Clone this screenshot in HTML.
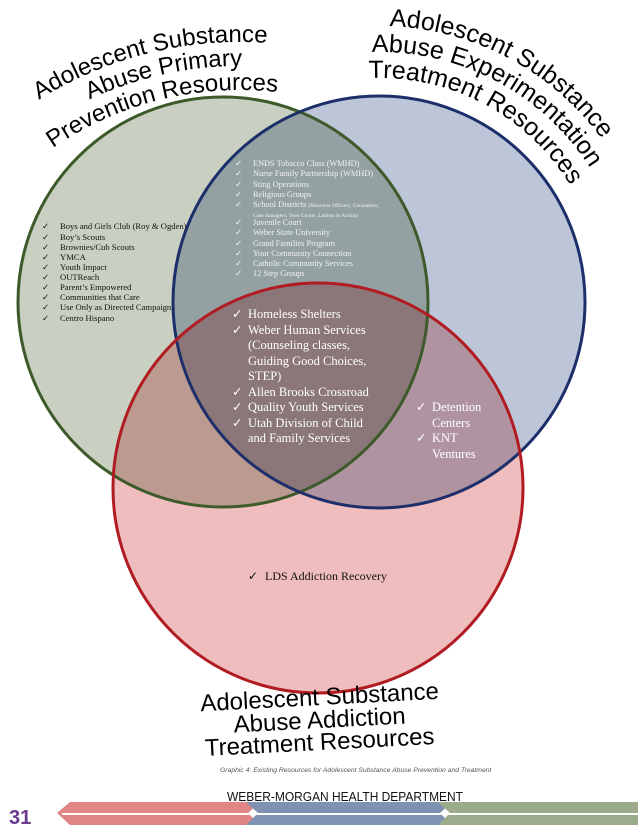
<!DOCTYPE html>
<html><head><meta charset="utf-8"><style>
html,body{margin:0;padding:0;background:#fff;}
svg{display:block}
</style></head><body>
<svg width="638" height="826" viewBox="0 0 638 826" xmlns="http://www.w3.org/2000/svg">
<defs>
<path id="l1" d="M -65.8 197.7 A 378 378 0 0 1 405.6 80.2"/>
<path id="l2" d="M -46.4 211.8 A 354 354 0 0 1 395.1 101.8"/>
<path id="l3" d="M -27 226 A 330 330 0 0 1 384.5 123.3"/>
<path id="r1" d="M 284.6 42.6 A 276 276 0 0 1 650.9 254"/>
<path id="r2" d="M 293.5 67 A 250 250 0 0 1 625.2 258.5"/>
<path id="r3" d="M 302.4 91.4 A 224 224 0 0 1 599.6 263"/>
</defs>
<g style="isolation:isolate">
<circle cx="223" cy="302" r="205" fill="#c9d0c1" style="mix-blend-mode:multiply"/>
<circle cx="379" cy="302" r="206" fill="#bcc6d8" style="mix-blend-mode:multiply"/>
<circle cx="318" cy="488" r="205" fill="#efbdbd" style="mix-blend-mode:multiply"/>
</g>
<circle cx="223" cy="302" r="205" fill="none" stroke="#3d5a2a" stroke-width="3"/>
<circle cx="379" cy="302" r="206" fill="none" stroke="#1c2f6b" stroke-width="3"/>
<circle cx="318" cy="488" r="205" fill="none" stroke="#b01c22" stroke-width="3"/>

<g font-family="'Liberation Sans', sans-serif" font-size="24" fill="#000" text-anchor="middle">
<text><textPath href="#l1" startOffset="50%">Adolescent Substance</textPath></text>
<text><textPath href="#l2" startOffset="52%">Abuse Primary</textPath></text>
<text><textPath href="#l3" startOffset="50%">Prevention Resources</textPath></text>
<text font-size="25"><textPath href="#r1" startOffset="48%">Adolescent Substance</textPath></text>
<text font-size="25"><textPath href="#r2" startOffset="48%">Abuse Experimentation</textPath></text>
<text font-size="25"><textPath href="#r3" startOffset="48%">Treatment Resources</textPath></text>
<text x="320" y="705" transform="rotate(-3 320 705)">Adolescent Substance</text>
<text x="320" y="728" transform="rotate(-3 320 728)">Abuse Addiction</text>
<text x="320" y="750" transform="rotate(-3 320 750)">Treatment Resources</text>
</g>

<g font-family="'Liberation Serif', serif" font-size="8.6" fill="#111">
<text x="42" y="229">✓</text><text x="60" y="229">Boys and Girls Club (Roy &amp; Ogden)</text>
<text x="42" y="240">✓</text><text x="60" y="240">Boy’s Scouts</text>
<text x="42" y="250">✓</text><text x="60" y="250">Brownies/Cub Scouts</text>
<text x="42" y="260">✓</text><text x="60" y="260">YMCA</text>
<text x="42" y="270">✓</text><text x="60" y="270">Youth Impact</text>
<text x="42" y="280">✓</text><text x="60" y="280">OUTReach</text>
<text x="42" y="290">✓</text><text x="60" y="290">Parent’s Empowered</text>
<text x="42" y="300">✓</text><text x="60" y="300">Communities that Care</text>
<text x="42" y="310">✓</text><text x="60" y="310">Use Only as Directed Campaign</text>
<text x="42" y="321">✓</text><text x="60" y="321">Centro Hispano</text>
</g>
<g font-family="'Liberation Serif', serif" font-size="8.3" fill="#f2f2f2">
<text x="235" y="166">✓</text><text x="253" y="166">ENDS Tobacco Class (WMHD)</text>
<text x="235" y="176">✓</text><text x="253" y="176">Nurse Family Partnership (WMHD)</text>
<text x="235" y="187">✓</text><text x="253" y="187">Sting Operations</text>
<text x="235" y="197">✓</text><text x="253" y="197">Religious Groups</text>
<text x="235" y="207">✓</text><text x="253" y="207">School Districts <tspan font-size="5.5">(Resource Officers, Counselors,</tspan></text>
<text x="253" y="217" font-size="5.5">Case managers, Teen Courts, Latinos in Action)</text>
<text x="235" y="225">✓</text><text x="253" y="225">Juvenile Court</text>
<text x="235" y="235">✓</text><text x="253" y="235">Weber State University</text>
<text x="235" y="246">✓</text><text x="253" y="246">Grand Families Program</text>
<text x="235" y="256">✓</text><text x="253" y="256">Your Community Connection</text>
<text x="235" y="266">✓</text><text x="253" y="266">Catholic Community Services</text>
<text x="235" y="276">✓</text><text x="253" y="276">12 Step Groups</text>
</g>
<g font-family="'Liberation Serif', serif" font-size="12.5" fill="#fff">
<text x="232" y="318">✓</text><text x="248" y="318">Homeless Shelters</text>
<text x="232" y="334">✓</text><text x="248" y="334">Weber Human Services</text>
<text x="248" y="349">(Counseling classes,</text>
<text x="248" y="365">Guiding Good Choices,</text>
<text x="248" y="380">STEP)</text>
<text x="232" y="396">✓</text><text x="248" y="396">Allen Brooks Crossroad</text>
<text x="232" y="411">✓</text><text x="248" y="411">Quality Youth Services</text>
<text x="232" y="427">✓</text><text x="248" y="427">Utah Division of Child</text>
<text x="248" y="442">and Family Services</text>
<text x="416" y="411">✓</text><text x="432" y="411">Detention</text>
<text x="432" y="427">Centers</text>
<text x="416" y="442">✓</text><text x="432" y="442">KNT</text>
<text x="432" y="458">Ventures</text>
</g>
<g font-family="'Liberation Serif', serif" font-size="12" fill="#111">
<text x="248" y="580">✓</text><text x="265" y="580">LDS Addiction Recovery</text>
</g>

<text x="220" y="772" font-family="'Liberation Sans', sans-serif" font-size="6.8" font-style="italic" fill="#555">Graphic 4: Existing Resources for Adolescent Substance Abuse Prevention and Treatment</text>

<polygon points="57,813 70,802 260,802 248,813 260,825 70,825" fill="#e08585"/>
<polygon points="246,802 452,802 440,813 452,825 246,825 258,813" fill="#7f92b2"/>
<polygon points="438,802 638,802 638,825 438,825 450,813" fill="#9bab8c"/>
<rect x="62" y="813" width="576" height="2" fill="#fff"/>
<text x="345" y="801" text-anchor="middle" font-family="'Liberation Sans', sans-serif" font-size="13" fill="#111" textLength="236" lengthAdjust="spacingAndGlyphs">WEBER-MORGAN HEALTH DEPARTMENT</text>
<text x="9" y="824" font-family="'Liberation Sans', sans-serif" font-size="20" font-weight="bold" fill="#6a3a8c">31</text>
</svg>
</body></html>
